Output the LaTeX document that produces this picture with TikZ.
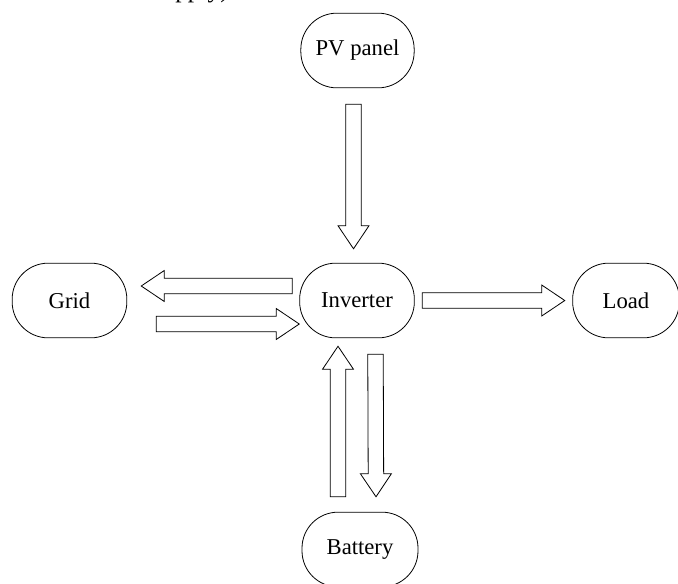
\documentclass[tikz,border=0pt]{standalone}
\usepackage{fontspec}
\setmainfont{Liberation Serif}
\usetikzlibrary{positioning, calc}

% hollow block arrow from #1 (tail) to #2 (tip)
\newcommand{\fatarrow}[2]{%
  \coordinate (fa-s) at (#1);
  \coordinate (fa-e) at (#2);
  \coordinate (fa-b) at ($(fa-e)!17.25pt!(fa-s)$);
  \draw[fatarr] ($(fa-s)!5.8pt!90:(fa-e)$) -- ($(fa-b)!5.8pt!90:(fa-e)$)
    -- ($(fa-b)!11.6pt!90:(fa-e)$) -- (fa-e)
    -- ($(fa-b)!11.6pt!-90:(fa-e)$) -- ($(fa-b)!5.8pt!-90:(fa-e)$)
    -- ($(fa-s)!5.8pt!-90:(fa-e)$) -- cycle;
}

\begin{document}
\begin{tikzpicture}[
  x=0.75pt, y=-0.75pt,
  block/.style={draw, line width=0.6pt, rounded corners=27pt,
              minimum width=86pt, minimum height=56pt, align=center,
              font=\fontsize{17}{20}\selectfont},
  fatarr/.style={draw, line width=0.6pt, fill=white, line join=miter},
  caption/.style={font=\fontsize{19}{22}\selectfont, inner sep=0pt}
]
  \path[use as bounding box, clip] (0,0) rectangle (678,583);

  % Blocks
  \node[block, minimum width=85pt] (pv)   at (357.5, 50.5)  {PV panel};
  \node[block]                     (inv)  at (357, 300.5)   {Inverter};
  \node[block]                     (grid) at (69.5, 300.5)  {Grid};
  \node[block, minimum width=80pt] (load) at (626, 300.5)   {Load};
  \node[block, minimum width=87pt] (bat)  at (360, 549.5)   {Battery};

  % cut-off caption line
  \node[caption, anchor=base west] (cap) at (175, -2.5) {pply)};

  % Power flows
  \fatarrow{$(pv.south)+(-4,16)$}{$(inv.north)+(-3.5,-14)$}
  \fatarrow{$(inv.west)+(-7,-14.5)$}{$(grid.east)+(14,-14.5)$}
  \fatarrow{$(grid.east)+(29,23.5)$}{$(inv.west)+(0,23.5)$}
  \fatarrow{$(inv.east)+(7.5,0)$}{$(load.west)+(-7.5,0)$}
  \fatarrow{$(bat.north)+(-22,-15)$}{$(inv.south)+(-19,8)$}
  \fatarrow{$(inv.south)+(18.5,16)$}{$(bat.north)+(16,-15)$}

\end{tikzpicture}
\end{document}
